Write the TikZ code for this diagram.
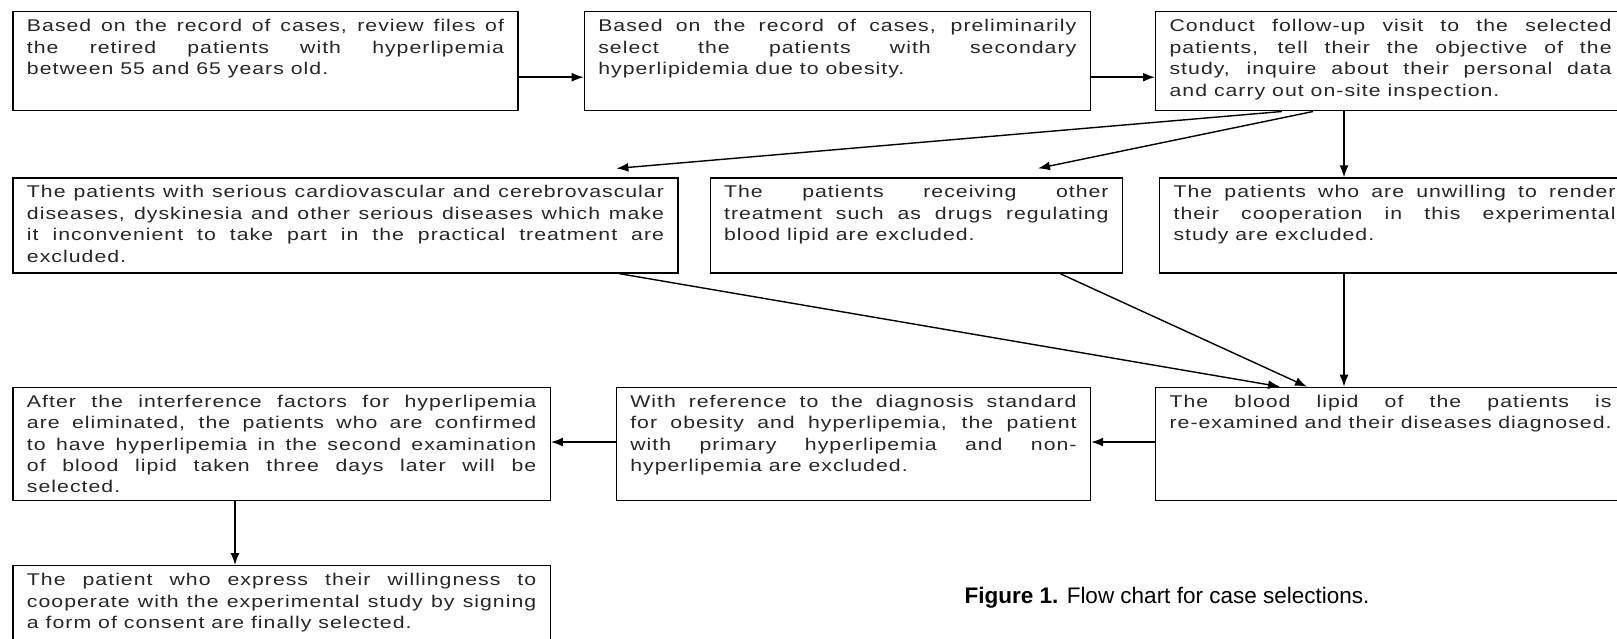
\documentclass[tikz,border=0pt]{standalone}
\usepackage{fontspec}
\usetikzlibrary{arrows.meta}
\newfontfamily\boxfont[FakeStretch=1.25, LetterSpace=6]{Liberation Sans}
\newfontfamily\capfont{Liberation Sans}
\newcommand{\fl}[1]{#1\linebreak}
\tikzset{stepbox/.style={draw, line width=1.2pt, anchor=north west, inner xsep=14pt, inner ysep=0pt,
                         text height=20pt, align=justify, text=black!85, font=\boxfont\fontsize{17pt}{21.4pt}\selectfont}}
\tikzset{flow/.style={line width=1.4pt, -{Latex[length=12pt,width=9pt]}}}
\begin{document}
\begin{tikzpicture}[x=1pt, y=-1pt]
			\useasboundingbox (0,0) rectangle (1617,639);
			\clip (0,0) rectangle (1617,639);
			% first row
			\node[stepbox, text width=477pt, text depth=79pt] (b1) at (12.4,11.3) {\fl{Based on the record of cases, review files of} \fl{the retired patients with hyperlipemia} between 55 and 65 years old.};
			\node[stepbox, text width=478pt, text depth=79pt] (b2) at (583.7,11.3) {\fl{Based on the record of cases, preliminarily} \fl{select the patients with secondary} hyperlipidemia due to obesity.};
			\node[stepbox, text width=442pt, text depth=79pt] (b3) at (1155,11.3) {\fl{Conduct follow-up visit to the selected} \fl{patients, tell their the objective of the} \fl{study, inquire about their personal data} and carry out on-site inspection.};
			% second row
			\node[stepbox, text width=637pt, text depth=75pt] (b4) at (12.4,177.4) {\fl{The patients with serious cardiovascular and cerebrovascular} \fl{diseases, dyskinesia and other serious diseases which make} \fl{it inconvenient to take part in the practical treatment are} excluded.};
			\node[stepbox, text width=384.5pt, text depth=75pt] (b5) at (709.5,177.4) {\fl{The patients receiving other} \fl{treatment such as drugs regulating} blood lipid are excluded.};
			\node[stepbox, text width=442pt, text depth=75pt] (b6) at (1159,177.4) {\fl{The patients who are unwilling to render} \fl{their cooperation in this experimental} study are excluded.};
			% third row
			\node[stepbox, text width=442pt, text depth=93.5pt] (b7) at (1155,386.7) {\fl{The blood lipid of the patients is} re-examined and their diseases diagnosed.};
			\node[stepbox, text width=446.3pt, text depth=93.5pt] (b8) at (615.7,386.7) {\fl{With reference to the diagnosis standard} \fl{for obesity and hyperlipemia, the patient} \fl{with primary hyperlipemia and non-} hyperlipemia are excluded.};
			\node[stepbox, text width=509.3pt, text depth=93.5pt] (b9) at (12.4,386.7) {\fl{After the interference factors for hyperlipemia} \fl{are eliminated, the patients who are confirmed} \fl{to have hyperlipemia in the second examination} \fl{of blood lipid taken three days later will be} selected.};
			% last box
			\node[stepbox, text width=509.3pt, text depth=80pt] (b10) at (12.4,565) {\fl{The patient who express their willingness to} \fl{cooperate with the experimental study by signing} a form of consent are finally selected.};
			\node[font=\capfont\fontsize{22.5pt}{26pt}\selectfont] (cap) at (1167,598) {\textbf{Figure 1.} Flow chart for case selections.};
			% arrows
			\draw[flow] ([yshift=-15.8pt]b1.east) -- ([yshift=-15.8pt]b2.west);
			\draw[flow] ([yshift=-15.8pt]b2.east) -- ([yshift=-15.8pt]b3.west);
			\draw[flow] ([xshift=127pt]b3.south west) -- ([xshift=604pt,yshift=9pt]b4.north west);
			\draw[flow] ([xshift=158pt]b3.south west) -- ([xshift=328.5pt,yshift=9pt]b5.north west);
			\draw[flow] ([xshift=189pt]b3.south west) -- ([xshift=189pt]b3.south west |- b6.north);
			\draw[flow] ([xshift=606.6pt]b4.south west) -- ([xshift=125pt]b7.north west);
			\draw[flow] ([xshift=350.5pt]b5.south west) -- ([xshift=152pt]b7.north west);
			\draw[flow] ([xshift=185pt]b6.south west) -- ([xshift=185pt]b6.south west |- b7.north);
			\draw[flow] ([yshift=2pt]b7.west) -- ([yshift=2pt]b8.east);
			\draw[flow] ([yshift=2pt]b8.west) -- ([yshift=2pt]b9.east);
			\draw[flow] ([xshift=222.6pt]b9.south west) -- ([xshift=222.6pt]b9.south west |- b10.north);
		\end{tikzpicture}
\end{document}
